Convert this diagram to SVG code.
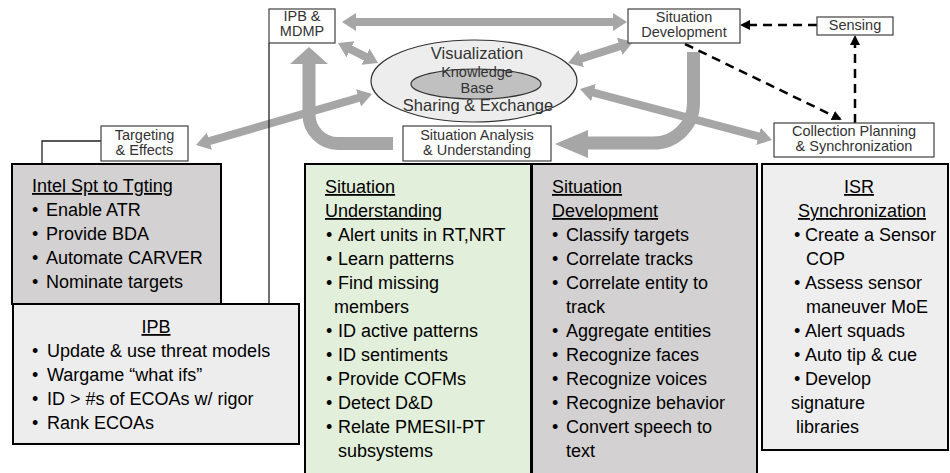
<svg xmlns="http://www.w3.org/2000/svg" width="950" height="473" viewBox="0 0 950 473">
<defs>
<marker id="gh" markerUnits="userSpaceOnUse" markerWidth="16" markerHeight="20" refX="2" refY="9" orient="auto-start-reverse">
<path d="M0,0 L14,9 L0,18 Z" fill="#a6a6a6"/>
</marker>
<marker id="bh" markerUnits="userSpaceOnUse" markerWidth="12" markerHeight="12" refX="8" refY="5" orient="auto">
<path d="M0,0 L10,5 L0,10 Z" fill="#000"/>
</marker>
<style>
.ga{stroke:#a6a6a6;stroke-width:8;fill:none;marker-start:url(#gh);marker-end:url(#gh)}
.gc{stroke:#a6a6a6;stroke-width:13;fill:none}
.gf{fill:#a6a6a6}
.da{stroke:#000;stroke-width:2.5;stroke-dasharray:9 6;fill:none;marker-end:url(#bh)}
.thin{stroke:#222;stroke-width:1.3;fill:none}
.tb{fill:#fff;stroke:#404040;stroke-width:1.2}
.tl{font-family:"Liberation Sans",Arial,sans-serif;font-size:14.5px;fill:#333;text-anchor:middle}
.el{font-family:"Liberation Sans",Arial,sans-serif;font-size:16.5px;fill:#333;text-anchor:middle}
.ek{font-family:"Liberation Sans",Arial,sans-serif;font-size:14.5px;fill:#333;text-anchor:middle}
.bx{stroke:#000;stroke-width:2}
.t{font-family:"Liberation Sans",Arial,sans-serif;font-size:18px;fill:#000}
.u{text-decoration:underline}
.c{text-anchor:middle}
</style>
</defs>
<g id="connectors">
<line class="ga" x1="354" y1="22" x2="615" y2="22"/>
<line class="ga" x1="348.7" y1="48.4" x2="367.3" y2="57.6"/>
<line class="ga" x1="579.4" y1="59.3" x2="621.6" y2="45.7"/>
<line class="ga" x1="207.5" y1="141.7" x2="360.5" y2="97.3"/>
<line class="ga" x1="591.6" y1="92.1" x2="760.4" y2="136.9"/>
<path class="gc" d="M393,143.5 H338 A29 29 0 0 1 309 114.5 V63"/>
<polygon class="gf" points="290,64 328,64 309,47"/>
<path class="gc" d="M693.5,52 V103 A40 40 0 0 1 653.5 143 H586"/>
<polygon class="gf" points="588,130 588,158 555,144"/>
<line class="da" x1="817" y1="25" x2="742" y2="25"/>
<line class="da" x1="685" y1="44" x2="840" y2="119"/>
<line class="da" x1="855" y1="123" x2="855" y2="37"/>
<line class="thin" x1="269" y1="43" x2="269" y2="304"/>
<path class="thin" d="M101,141 H42 V164"/>
</g>
<g id="ipb-mdmp">
<rect class="tb" x="269" y="9" width="66" height="34"/>
<text class="tl" x="302" y="21">IPB &amp;</text>
<text class="tl" x="302" y="36">MDMP</text>
</g>
<g id="situation-development-top">
<rect class="tb" x="628" y="9" width="112" height="34"/>
<text class="tl" x="684" y="22">Situation</text>
<text class="tl" x="684" y="37">Development</text>
</g>
<g id="sensing">
<rect class="tb" x="817" y="17" width="76" height="18"/>
<text class="tl" x="855" y="30">Sensing</text>
</g>
<g id="collection-planning">
<rect class="tb" x="774" y="123" width="160" height="34"/>
<text class="tl" x="854" y="136">Collection Planning</text>
<text class="tl" x="854" y="151">&amp; Synchronization</text>
</g>
<g id="situation-analysis">
<rect class="tb" x="403" y="126" width="148" height="35"/>
<text class="tl" x="477" y="140">Situation Analysis</text>
<text class="tl" x="477" y="155">&amp; Understanding</text>
</g>
<g id="targeting">
<rect class="tb" x="101" y="126" width="87" height="35"/>
<text class="tl" x="144.5" y="140">Targeting</text>
<text class="tl" x="144.5" y="155">&amp; Effects</text>
</g>
<g id="knowledge-hub">
<ellipse cx="474" cy="81" rx="103" ry="41" fill="#ededed" stroke="#333" stroke-width="1.2"/>
<ellipse cx="476" cy="84" rx="65" ry="15" fill="#c0c0c0" stroke="#333" stroke-width="1.2"/>
<text class="el" x="477" y="59">Visualization</text>
<text class="ek" x="477" y="77">Knowledge</text>
<text class="ek" x="477" y="93">Base</text>
<text class="el" x="478" y="111">Sharing &amp; Exchange</text>
</g>
<g id="intel-spt">
<rect class="bx" x="12" y="164" width="209" height="140" fill="#d3d1d1"/>
<text class="t u" x="32" y="192">Intel Spt to Tgting</text>
<text class="t" x="32" y="216">•<tspan x="46">Enable ATR</tspan></text>
<text class="t" x="32" y="240">•<tspan x="46">Provide BDA</tspan></text>
<text class="t" x="32" y="264">•<tspan x="46">Automate CARVER</tspan></text>
<text class="t" x="32" y="288">•<tspan x="46">Nominate targets</tspan></text>
</g>
<g id="ipb">
<rect class="bx" x="13" y="304" width="286" height="140" fill="#ededed"/>
<text class="t u c" x="156" y="333">IPB</text>
<text class="t" x="32" y="357">•<tspan x="47">Update &amp; use threat models</tspan></text>
<text class="t" x="32" y="381">•<tspan x="47">Wargame “what ifs”</tspan></text>
<text class="t" x="32" y="405">•<tspan x="47">ID &gt; #s of ECOAs w/ rigor</tspan></text>
<text class="t" x="32" y="429">•<tspan x="47">Rank ECOAs</tspan></text>
</g>
<g id="situation-understanding">
<rect class="bx" x="305" y="164" width="226" height="315" fill="#e2efda"/>
<text class="t u" x="325" y="193">Situation</text>
<text class="t u" x="325" y="217">Understanding</text>
<text class="t" x="326" y="241">•<tspan x="338">Alert units in RT,NRT</tspan></text>
<text class="t" x="326" y="265">•<tspan x="338">Learn patterns</tspan></text>
<text class="t" x="326" y="289">•<tspan x="338">Find missing</tspan></text>
<text class="t" x="334" y="313">members</text>
<text class="t" x="326" y="337">•<tspan x="338">ID active patterns</tspan></text>
<text class="t" x="326" y="361">•<tspan x="338">ID sentiments</tspan></text>
<text class="t" x="326" y="385">•<tspan x="338">Provide COFMs</tspan></text>
<text class="t" x="326" y="409">•<tspan x="338">Detect D&amp;D</tspan></text>
<text class="t" x="326" y="433">•<tspan x="338">Relate PMESII-PT</tspan></text>
<text class="t" x="338" y="457">subsystems</text>
</g>
<g id="situation-development">
<rect class="bx" x="532" y="164" width="225" height="315" fill="#d3d1d1"/>
<text class="t u" x="552" y="193">Situation</text>
<text class="t u" x="552" y="217">Development</text>
<text class="t" x="552" y="241">•<tspan x="566">Classify targets</tspan></text>
<text class="t" x="552" y="265">•<tspan x="566">Correlate tracks</tspan></text>
<text class="t" x="552" y="289">•<tspan x="566">Correlate entity to</tspan></text>
<text class="t" x="566" y="313">track</text>
<text class="t" x="552" y="337">•<tspan x="566">Aggregate entities</tspan></text>
<text class="t" x="552" y="361">•<tspan x="566">Recognize faces</tspan></text>
<text class="t" x="552" y="385">•<tspan x="566">Recognize voices</tspan></text>
<text class="t" x="552" y="409">•<tspan x="566">Recognize behavior</tspan></text>
<text class="t" x="552" y="433">•<tspan x="566">Convert speech to</tspan></text>
<text class="t" x="566" y="457">text</text>
</g>
<g id="isr-sync">
<rect class="bx" x="762" y="164" width="186" height="286" fill="#eeeeee"/>
<text class="t u c" x="859" y="193">ISR</text>
<text class="t u c" x="862" y="217">Synchronization</text>
<text class="t" x="794" y="241">•<tspan x="805">Create a Sensor</tspan></text>
<text class="t" x="806" y="265">COP</text>
<text class="t" x="794" y="289">•<tspan x="805">Assess sensor</tspan></text>
<text class="t" x="806" y="313">maneuver MoE</text>
<text class="t" x="794" y="337">•<tspan x="805">Alert squads</tspan></text>
<text class="t" x="794" y="361">•<tspan x="805">Auto tip &amp; cue</tspan></text>
<text class="t" x="794" y="385">•<tspan x="805">Develop</tspan></text>
<text class="t" x="791" y="409">signature</text>
<text class="t" x="796" y="433">libraries</text>
</g>
</svg>
